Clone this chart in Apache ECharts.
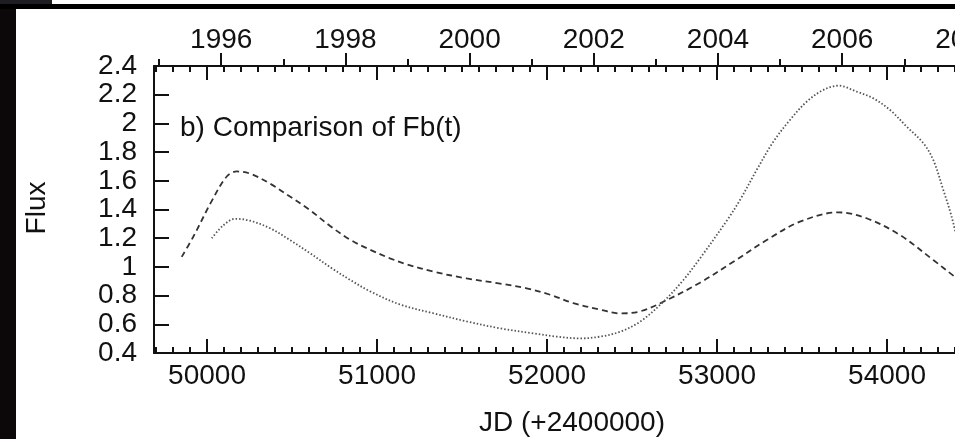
<!DOCTYPE html>
<html>
<head>
<meta charset="utf-8">
<script src="https://cdn.jsdelivr.net/npm/echarts@6/dist/echarts.min.js"></script>
<style>
html,body{margin:0;padding:0;background:#fff;}
#c{width:955px;height:439px;}
</style>
</head>
<body>
<div id="c"></div>
<script>
// ---- data (JD - 2400000, flux) ----
const jdDashed = [49851, 49919, 50028, 50116, 50175, 50253, 50371, 50488, 50606, 50724, 50841, 50959, 51076, 51170, 51331, 51527, 51724, 51880, 52018, 52155, 52312, 52429, 52547, 52684, 52900, 53096, 53292, 53488, 53714, 53880, 54076, 54272, 54400, 54480];
const fluxDashed = [1.07, 1.21, 1.46, 1.63, 1.665, 1.65, 1.58, 1.49, 1.395, 1.285, 1.19, 1.12, 1.06, 1.02, 0.967, 0.92, 0.884, 0.851, 0.806, 0.748, 0.702, 0.676, 0.69, 0.757, 0.89, 1.036, 1.187, 1.315, 1.38, 1.339, 1.222, 1.048, 0.93, 0.86];

const jdDotted = [50028, 50096, 50165, 50253, 50371, 50488, 50606, 50741, 50841, 50959, 51135, 51331, 51527, 51724, 51920, 52057, 52194, 52312, 52429, 52547, 52684, 52802, 52900, 53067, 53135, 53233, 53331, 53429, 53527, 53625, 53714, 53822, 53919, 54018, 54116, 54214, 54272, 54331, 54380, 54430];
const fluxDotted = [1.20, 1.29, 1.335, 1.322, 1.269, 1.187, 1.095, 0.985, 0.91, 0.83, 0.738, 0.677, 0.62, 0.572, 0.537, 0.514, 0.502, 0.514, 0.548, 0.618, 0.757, 0.909, 1.06, 1.339, 1.466, 1.675, 1.872, 2.024, 2.151, 2.233, 2.263, 2.221, 2.175, 2.093, 1.977, 1.861, 1.745, 1.536, 1.35, 1.1];

const jdMajorTicks = [50000, 51000, 52000, 53000, 54000];
const evenYears = [1996, 1998, 2000, 2002, 2004, 2006, 2008];
const oddYears = [1995, 1997, 1999, 2001, 2003, 2005, 2007];
const yTicks = [0.4, 0.6, 0.8, 1, 1.2, 1.4, 1.6, 1.8, 2, 2.2, 2.4];

const jdMin = 49688, jdMax = 54750;
const yearToJD = y => 51544.5 + (y - 2000) * 365.25;
const jdToYear = v => Math.round(2000 + (v - 51544.5) / 365.25);
const jdMinorTicks = [];
for (let v = 49700; v <= 54700; v += 100) if (v % 1000 !== 0) jdMinorTicks.push(v);

const FONT = '"Liberation Sans", Arial, Helvetica, sans-serif';
const INK = '#111';
const lineStyle = {color: INK, width: 2};

function xa(pos, opts) {
  return Object.assign({
    type: 'value', position: pos, min: jdMin, max: jdMax,
    axisLine: {show: false}, splitLine: {show: false},
    axisLabel: {show: false}, axisTick: {show: false}
  }, opts);
}

const chart = echarts.init(document.getElementById('c'), null, {renderer: 'canvas'});
chart.setOption({
  backgroundColor: '#fff',
  animation: false,
  grid: {left: 154, top: 66, width: (jdMax - jdMin) * 0.17, height: 287, containLabel: false, outerBoundsMode: 'none'},
  xAxis: [
    xa('bottom', {
      axisLine: {show: true, onZero: false, lineStyle},
      axisTick: {show: true, inside: true, length: 14, lineStyle, customValues: jdMajorTicks},
      axisLabel: {show: true, customValues: jdMajorTicks, formatter: v => String(v), margin: 9, fontSize: 28, fontFamily: FONT, color: INK}
    }),
    xa('bottom', {axisTick: {show: true, inside: true, length: 6, lineStyle, customValues: jdMinorTicks}}),
    xa('top', {
      axisLine: {show: true, onZero: false, lineStyle},
      axisTick: {show: true, inside: true, length: 14, lineStyle, customValues: jdMajorTicks}
    }),
    xa('top', {axisTick: {show: true, inside: true, length: 6, lineStyle, customValues: jdMinorTicks}}),
    xa('top', {
      axisTick: {show: true, inside: false, length: 13, lineStyle, customValues: evenYears.map(yearToJD)},
      axisLabel: {show: true, customValues: evenYears.map(yearToJD), formatter: v => String(jdToYear(v)),
                  margin: 12, fontSize: 28, fontFamily: FONT, color: INK}
    }),
    xa('top', {axisTick: {show: true, inside: false, length: 7, lineStyle, customValues: oddYears.map(yearToJD)}})
  ],
  yAxis: [{
    type: 'value', min: 0.4, max: 2.4, position: 'left',
    axisLine: {show: true, onZero: false, lineStyle},
    splitLine: {show: false},
    axisTick: {show: true, inside: true, length: 15, lineStyle, customValues: yTicks},
    axisLabel: {customValues: yTicks, margin: 17, fontSize: 28, fontFamily: FONT, color: INK,
                formatter: v => String(Math.round(v * 10) / 10)}
  }],
  series: [
    {
      name: 'dashed', type: 'line', xAxisIndex: 0, yAxisIndex: 0, smooth: 0.35, symbol: 'none',
      data: jdDashed.map((x, i) => [x, fluxDashed[i]]),
      lineStyle: {color: '#333', width: 1.8, type: [6, 4]}
    },
    {
      name: 'dotted', type: 'line', xAxisIndex: 0, yAxisIndex: 0, smooth: 0.35, symbol: 'none',
      data: jdDotted.map((x, i) => [x, fluxDotted[i]]),
      lineStyle: {color: '#555', width: 1.8, type: [1.5, 2]}
    }
  ],
  graphic: [
    {type: 'text', left: 180, top: 114, style: {text: 'b) Comparison of Fb(t)', font: '28px ' + FONT, fill: INK}},
    {type: 'text', x: 572, y: 423, style: {text: 'JD (+2400000)', font: '28px ' + FONT, fill: INK, align: 'center', verticalAlign: 'middle'}},
    {type: 'text', x: 37, y: 208, rotation: Math.PI / 2, style: {text: 'Flux', font: '28px ' + FONT, fill: INK, align: 'center', verticalAlign: 'middle'}},
    {type: 'rect', shape: {x: 0, y: 0, width: 16, height: 439}, style: {fill: '#0c0809'}, z: 100},
    {type: 'rect', shape: {x: 0, y: 0, width: 52, height: 4}, style: {fill: '#1e1e22'}, z: 100},
    {type: 'rect', shape: {x: 0, y: 4, width: 955, height: 5}, style: {fill: '#000'}, z: 100}
  ]
});
</script>
</body>
</html>
